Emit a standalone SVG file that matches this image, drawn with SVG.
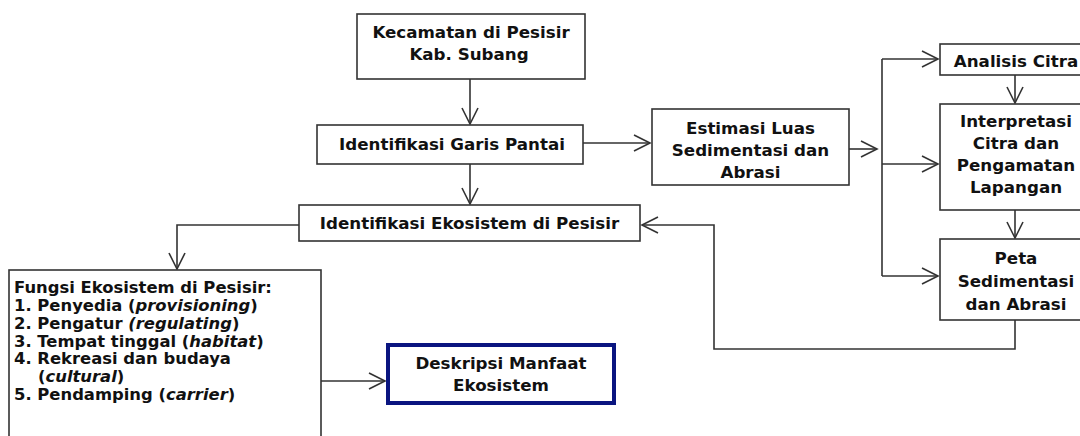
<svg xmlns="http://www.w3.org/2000/svg" width="1080" height="436" viewBox="0 0 1080 436">
<style>
.box{fill:#fff;stroke:#333;stroke-width:1.6}
.t{font-family:"DejaVu Sans",Verdana,sans-serif;font-weight:bold;font-size:16.7px;fill:#111}
.f{font-size:16.4px}
.c{text-anchor:middle}
.i{font-style:italic}
.ln{fill:none;stroke:#333;stroke-width:1.6}
</style>
<defs>
<marker id="ah" markerUnits="userSpaceOnUse" markerWidth="22" markerHeight="22" viewBox="-18 -11 20 22" refX="0" refY="0" orient="auto">
<path d="M-16,-8 L0,0 L-16,8" fill="none" stroke="#333" stroke-width="1.6"/>
</marker>
</defs>
<rect width="1080" height="436" fill="#fff"/>
<g id="connectors">
<line class="ln" x1="470" y1="79" x2="470" y2="124" marker-end="url(#ah)"/>
<line class="ln" x1="470" y1="164" x2="470" y2="204" marker-end="url(#ah)"/>
<line class="ln" x1="583" y1="143" x2="650" y2="143" marker-end="url(#ah)"/>
<line class="ln" x1="849" y1="149" x2="877" y2="149" marker-end="url(#ah)"/>
<line class="ln" x1="882" y1="59" x2="882" y2="276"/>
<line class="ln" x1="882" y1="59" x2="938" y2="59" marker-end="url(#ah)"/>
<line class="ln" x1="882" y1="164" x2="938" y2="164" marker-end="url(#ah)"/>
<line class="ln" x1="882" y1="276" x2="938" y2="276" marker-end="url(#ah)"/>
<line class="ln" x1="1015" y1="75" x2="1015" y2="103" marker-end="url(#ah)"/>
<line class="ln" x1="1015" y1="210" x2="1015" y2="238" marker-end="url(#ah)"/>
<polyline class="ln" points="1015,320 1015,349 714,349 714,225 642,225" marker-end="url(#ah)"/>
<polyline class="ln" points="299,225 177,225 177,269" marker-end="url(#ah)"/>
<line class="ln" x1="321" y1="381" x2="385" y2="381" marker-end="url(#ah)"/>
</g>
<g id="kecamatan">
<rect class="box" x="357" y="14" width="228" height="65"/>
<text class="t c" x="471" y="38">Kecamatan di Pesisir</text>
<text class="t c" x="469" y="60">Kab. Subang</text>
</g>
<g id="garis">
<rect class="box" x="317" y="125" width="266" height="39"/>
<text class="t c" x="452" y="150">Identifikasi Garis Pantai</text>
</g>
<g id="ekosistem">
<rect class="box" x="299" y="205" width="341" height="36"/>
<text class="t c" x="469.5" y="229">Identifikasi Ekosistem di Pesisir</text>
</g>
<g id="estimasi">
<rect class="box" x="652" y="109" width="197" height="76"/>
<text class="t c" x="750.5" y="134">Estimasi Luas</text>
<text class="t c" x="750.5" y="156">Sedimentasi dan</text>
<text class="t c" x="750.5" y="178">Abrasi</text>
</g>
<g id="analisis">
<rect class="box" x="940" y="44" width="160" height="31"/>
<text class="t c" x="1016" y="67">Analisis Citra</text>
</g>
<g id="interpretasi">
<rect class="box" x="940" y="104" width="160" height="106"/>
<text class="t c" x="1016" y="127">Interpretasi</text>
<text class="t c" x="1016" y="149">Citra dan</text>
<text class="t c" x="1016" y="171">Pengamatan</text>
<text class="t c" x="1016" y="193">Lapangan</text>
</g>
<g id="peta">
<rect class="box" x="940" y="239" width="160" height="81"/>
<text class="t c" x="1016" y="264">Peta</text>
<text class="t c" x="1016" y="287">Sedimentasi</text>
<text class="t c" x="1016" y="310">dan Abrasi</text>
</g>
<g id="fungsi">
<rect class="box" x="9" y="270" width="312" height="200"/>
<text class="t f" x="14" y="293">Fungsi Ekosistem di Pesisir:</text>
<text class="t f" x="14" y="311">1. Penyedia (<tspan class="i">provisioning</tspan>)</text>
<text class="t f" x="14" y="329">2. Pengatur <tspan class="i">(regulating</tspan>)</text>
<text class="t f" x="14" y="347">3. Tempat tinggal (<tspan class="i">habitat</tspan>)</text>
<text class="t f" x="14" y="364">4. Rekreasi dan budaya</text>
<text class="t f" x="38" y="382">(<tspan class="i">cultural</tspan>)</text>
<text class="t f" x="14" y="400">5. Pendamping (<tspan class="i">carrier</tspan>)</text>
</g>
<g id="deskripsi">
<rect x="388" y="345" width="226" height="58" fill="#fff" stroke="#0a1580" stroke-width="4"/>
<text class="t c" x="501" y="369">Deskripsi Manfaat</text>
<text class="t c" x="501" y="391">Ekosistem</text>
</g>
</svg>
